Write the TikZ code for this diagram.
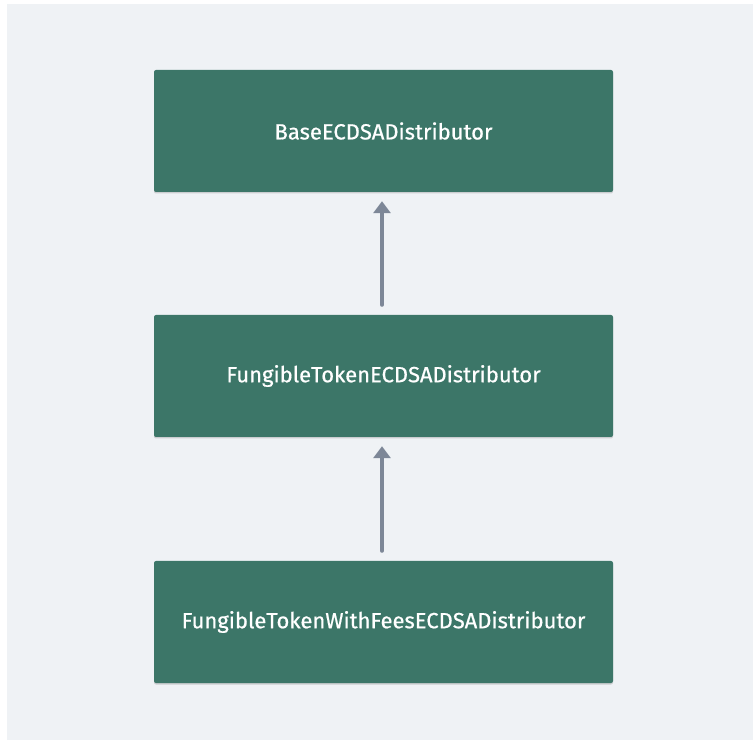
\documentclass[tikz,border=0pt]{standalone}
\usepackage{fontspec}
\setmainfont{Fira Sans}
\newfontfamily\lblfont{Fira Sans}[FakeBold=0.6]
\usetikzlibrary{arrows.meta,shadows}
\definecolor{bg}{HTML}{EFF2F5}
\definecolor{boxgreen}{HTML}{3C7668}
\definecolor{arrowgray}{HTML}{7D8797}
\tikzset{
  classbox/.style={rectangle, rounded corners=2pt, fill=boxgreen, draw=none,
    minimum width=459pt, minimum height=122pt, inner sep=0pt,
    text=white, font=\lblfont\fontsize{22}{26}\selectfont,
    drop shadow={shadow xshift=0pt, shadow yshift=-1.5pt, opacity=0.15, fill=black}},
  inherit/.style={draw=arrowgray, line width=4pt, line cap=round,
    -{Triangle[length=12pt,width=17pt]}, shorten >=9pt, shorten <=10pt}
}
\begin{document}
\begin{tikzpicture}[x=1pt,y=1pt]
\useasboundingbox (0,0) rectangle (753,740);
\fill[white] (0,0) rectangle (753,740);
\fill[bg] (7,0) rectangle (753,736);
\node[classbox] (base) at (383.5,609) {BaseECDSADistributor};
\node[classbox] (fung) at (383.5,364) {FungibleTokenECDSADistributor};
\node[classbox] (fees) at (383.5,118) {FungibleTokenWithFeesECDSADistributor};
\draw[inherit] (fung.north -| 382,0) -- (base.south -| 382,0);
\draw[inherit] (fees.north -| 382,0) -- (fung.south -| 382,0);
\end{tikzpicture}
\end{document}
